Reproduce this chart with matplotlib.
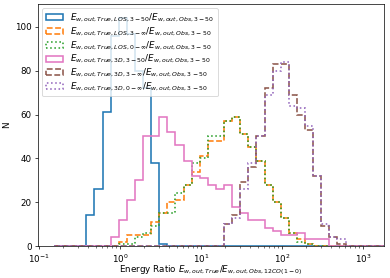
import numpy as np
import matplotlib
matplotlib.use("Agg")
import matplotlib.pyplot as plt

# log10 bin edges (0.1 dex wide)
log_edge_start = -0.815
log_edge_step = 0.1
n_bins = 41

labels = [
    r"$E_{w,out,True,LOS,3-50}/E_{w,out,Obs,3-50}$",
    r"$E_{w,out,True,LOS,3-\infty}/E_{w,out,Obs,3-50}$",
    r"$E_{w,out,True,LOS,0-\infty}/E_{w,out,Obs,3-50}$",
    r"$E_{w,out,True,3D,3-50}/E_{w,out,Obs,3-50}$",
    r"$E_{w,out,True,3D,3-\infty}/E_{w,out,Obs,3-50}$",
    r"$E_{w,out,True,3D,0-\infty}/E_{w,out,Obs,3-50}$",
]

# counts per bin, starting at bin index given in *_start
los_3_50_start = 4
los_3_50 = [14, 26, 61, 96, 104, 97, 80, 72, 38, 1]
los_3_inf_start = 8
los_3_inf = [2, 5, 5, 5, 11, 15, 20, 21, 28, 34, 41, 48, 48, 57, 59, 51, 45,
             39, 28, 20, 13, 6, 3, 1]
los_0_inf_start = 8
los_0_inf = [1, 1, 4, 6, 9, 15, 15, 24, 28, 38, 40, 50, 50, 57, 59, 51, 45,
             39, 28, 20, 13, 6, 2, 1]
d3_3_50_start = 7
d3_3_50 = [4, 12, 21, 30, 50, 50, 59, 52, 46, 39, 32, 31, 28, 26, 28, 18, 15,
           12, 12, 8, 7, 5, 5, 6, 3, 3, 3]
d3_3_inf_start = 21
d3_3_inf = [10, 14, 29, 36, 50, 72, 83, 83, 69, 60, 53, 32, 9, 4, 1]
d3_0_inf_start = 21
d3_0_inf = [10, 13, 26, 38, 50, 69, 80, 84, 64, 63, 55, 32, 10, 4, 3]

series = [
    (los_3_50_start, los_3_50, "C0", "-"),
    (los_3_inf_start, los_3_inf, "C1", "--"),
    (los_0_inf_start, los_0_inf, "C2", ":"),
    (d3_3_50_start, d3_3_50, "C6", "-"),
    (d3_3_inf_start, d3_3_inf, "C5", "--"),
    (d3_0_inf_start, d3_0_inf, "C4", ":"),
]

edges = 10 ** (log_edge_start + log_edge_step * np.arange(n_bins + 1))
centers = np.sqrt(edges[:-1] * edges[1:])

DPI = 63
fig = plt.figure(figsize=(390 / DPI, 278 / DPI), dpi=DPI)
ax = fig.add_axes([38 / 390, 32 / 278, 346 / 390, 242 / 278])

for (start, vals, color, ls), lab in zip(series, labels):
    w = np.zeros(n_bins)
    w[start:start + len(vals)] = vals
    ax.hist(centers, bins=edges, weights=w, histtype="step", color=color,
            linestyle=ls, linewidth=1.8, label=lab)

ax.set_xscale("log")
ax.set_xlim(10 ** -1.012, 10 ** 3.259)
ax.set_ylim(0, 110.5)
ax.set_yticks([0, 20, 40, 60, 80, 100])
ax.set_xlabel(r"Energy Ratio $E_{w,out,True}/E_{w,out,Obs,12CO(1-0)}$", labelpad=-1.5)
ax.set_ylabel("N")
ax.legend(loc="upper left", labelspacing=0.17, borderpad=0.4)

fig.savefig("out.png", dpi=DPI)
